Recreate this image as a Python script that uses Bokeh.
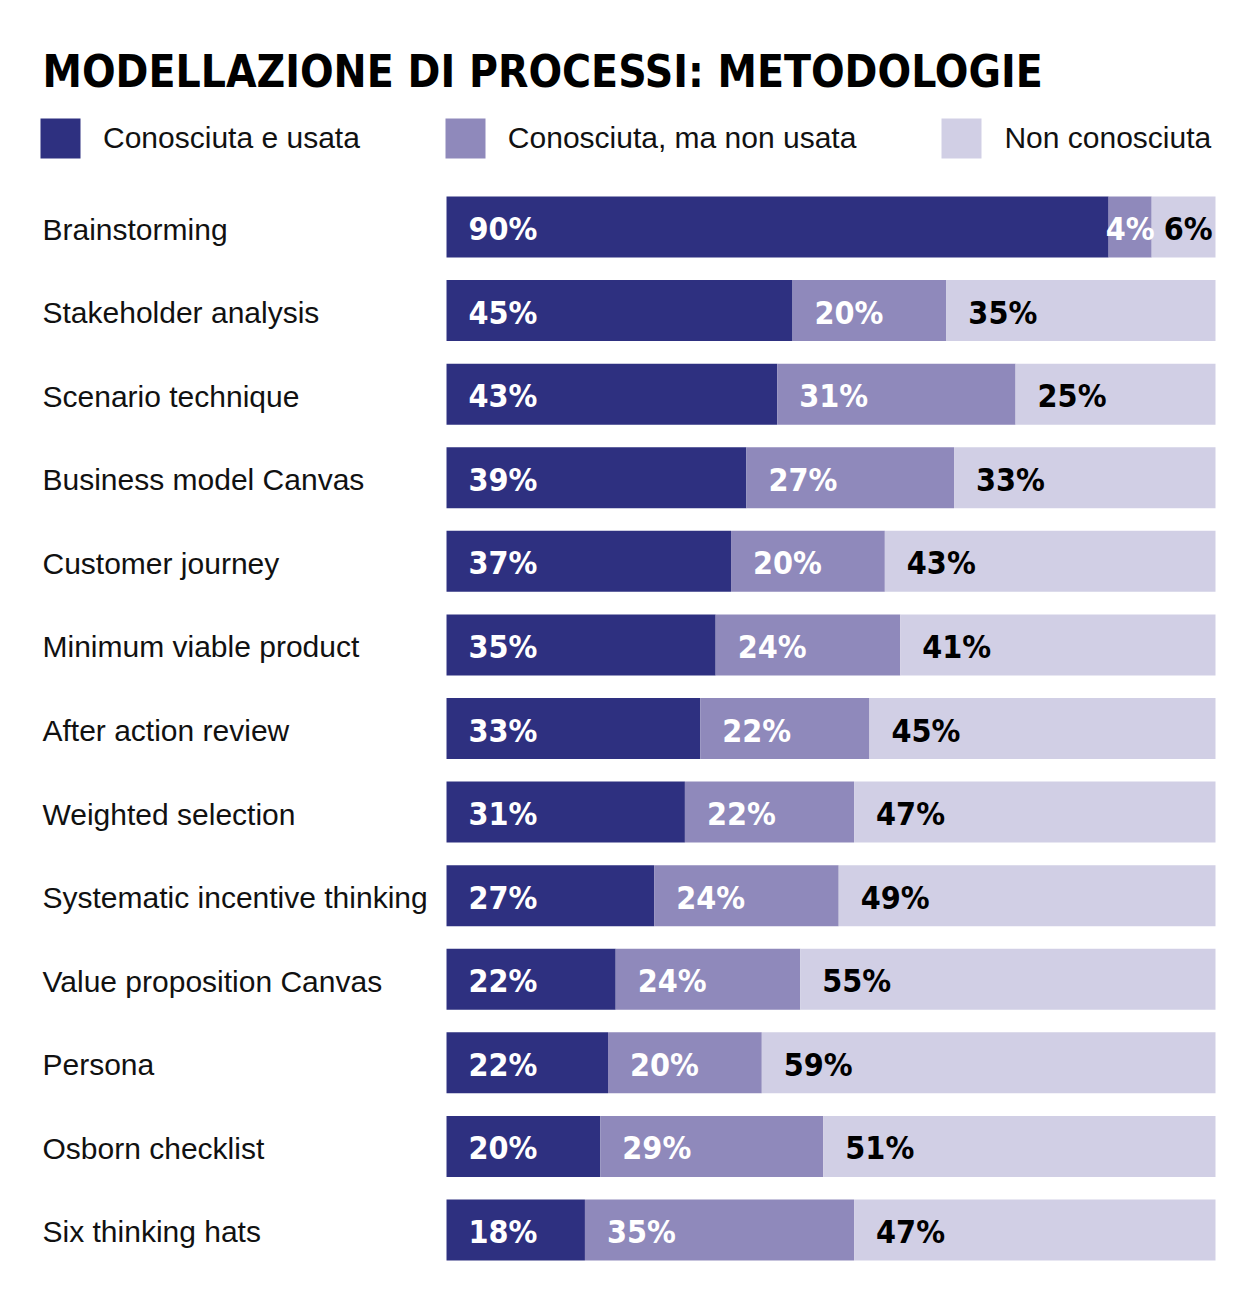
from bokeh.plotting import figure
from bokeh.models import (ColumnDataSource, Range1d, Label, LabelSet, Legend, LegendItem)
from bokeh.core.properties import value
from bokeh.embed import file_html
from bokeh.resources import INLINE

# ---------------- data ----------------
categories = ["Brainstorming", "Stakeholder analysis", "Scenario technique",
              "Business model Canvas", "Customer journey", "Minimum viable product",
              "After action review", "Weighted selection", "Systematic incentive thinking",
              "Value proposition Canvas", "Persona", "Osborn checklist", "Six thinking hats"]
# printed percentages
used_pct = [90, 45, 43, 39, 37, 35, 33, 31, 27, 22, 22, 20, 18]
unused_pct = [4, 20, 31, 27, 20, 24, 22, 22, 24, 24, 20, 29, 35]
unknown_pct = [6, 35, 25, 33, 43, 41, 45, 47, 49, 55, 59, 51, 47]
# bar shares as drawn in the reference
used_share = [86.1, 45, 43, 39, 37, 35, 33, 31, 27, 22, 21, 20, 18]
unused_share = [5.6, 20, 31, 27, 20, 24, 22, 22, 24, 24, 20, 29, 35]
unknown_share = [8.3, 35, 26, 34, 43, 41, 45, 47, 49, 54, 59, 51, 47]
series_names = ["Conosciuta e usata", "Conosciuta, ma non usata", "Non conosciuta"]
title_text = "MODELLAZIONE DI PROCESSI: METODOLOGIE"

colors = ["#2e3080", "#8f89bb", "#d1cfe5"]
label_colors = ["white", "white", "black"]

BOLD_FONT = "DejaVu Sans Condensed"
REG_FONT = "Liberation Sans"

W, H = 1240, 1288
rows = list(range(len(categories)))

src = ColumnDataSource(dict(row=rows, cat=categories, used=used_share,
                            unused=unused_share, unknown=unknown_share))

p = figure(width=W, height=H, output_backend="svg", toolbar_location=None,
           x_range=Range1d(-58.0, 103.25), y_range=Range1d(12.70, -2.710),
           min_border=0, x_axis_location=None, y_axis_location=None)
p.grid.visible = False
p.outline_line_color = None
p.background_fill_color = "white"
p.border_fill_color = "white"

renderers = p.hbar_stack(["used", "unused", "unknown"], y="row", height=0.73,
                         color=colors, line_color=None, source=src)

# percentage labels
xs, ys, txt, aligns, offs, cols = [], [], [], [], [], []
for i in rows:
    start = 0.0
    for k, (shares, pcts, col) in enumerate(((used_share, used_pct, label_colors[0]),
                                             (unused_share, unused_pct, label_colors[1]),
                                             (unknown_share, unknown_pct, label_colors[2]))):
        w = shares[i]
        if w < 10 and k == 2:
            xs.append(start + w); aligns.append("right"); offs.append(-3)
        elif w < 10:
            xs.append(start + w / 2); aligns.append("center"); offs.append(0)
        else:
            xs.append(start); aligns.append("left"); offs.append(22)
        ys.append(i); txt.append(f"{pcts[i]}%"); cols.append(col)
        start += w
lab_src = ColumnDataSource(dict(x=xs, y=ys, t=txt, a=aligns, o=offs, c=cols))
p.text(x="x", y="y", text="t", text_align="a", x_offset="o", y_offset=2,
       text_baseline="middle", text_color="c", text_font=value(BOLD_FONT),
       text_font_style="bold", text_font_size="32px", source=lab_src)

# category labels
cats = LabelSet(x=42, x_units="screen", y="row", text="cat", source=src,
                text_align="left", text_baseline="middle", y_offset=-2,
                text_font=value(REG_FONT), text_font_size="30px", text_color="#111111")
p.add_layout(cats)

# title
p.add_layout(Label(x=42, y=H - 71, x_units="screen", y_units="screen",
                   text=title_text, text_font=BOLD_FONT, text_font_style="bold",
                   text_font_size="44px", text_color="black",
                   text_baseline="alphabetic", text_align="left"))

# legend
legend = Legend(items=[LegendItem(label=series_names[k], renderers=[renderers[k]])
                       for k in range(3)],
                orientation="horizontal", location=(35, H - 163),
                glyph_width=50, glyph_height=50, label_standoff=18,
                spacing=80, padding=0, margin=0,
                label_text_font=REG_FONT, label_text_font_size="30px",
                label_text_color="#111111", label_height=50,
                border_line_color=None, background_fill_alpha=0)
p.add_layout(legend)

open("out.html", "w").write(file_html(p, INLINE))
